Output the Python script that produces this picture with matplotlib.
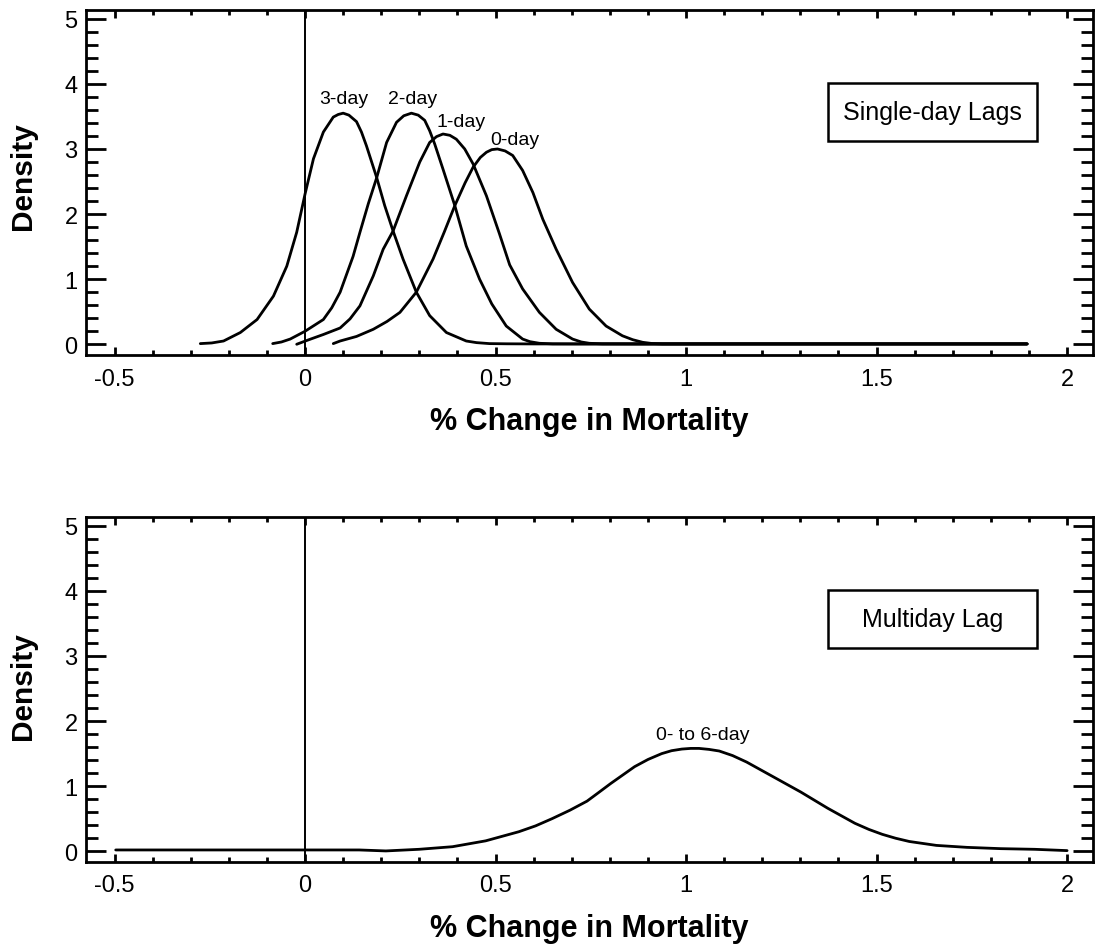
import numpy as np
import matplotlib
matplotlib.use("Agg")
import matplotlib.pyplot as plt
from matplotlib.ticker import MultipleLocator
from matplotlib.patches import Rectangle

plt.rcParams['font.family'] = ['Liberation Sans', 'DejaVu Sans']

# Posterior densities of the % change in mortality, single-day lags
lag3_x = [-0.275, -0.245, -0.214, -0.170, -0.126, -0.083, -0.048, -0.022, 0.0, 0.022,
          0.048, 0.074, 0.087, 0.100, 0.115, 0.135, 0.148, 0.161, 0.188, 0.209,
          0.231, 0.257, 0.292, 0.327, 0.371, 0.423, 0.45, 0.484, 0.53, 0.60,
          1.0, 1.5, 1.895]
lag3_y = [0.01, 0.02, 0.05, 0.18, 0.38, 0.74, 1.20, 1.72, 2.31, 2.85,
          3.26, 3.49, 3.53, 3.55, 3.52, 3.42, 3.26, 3.05, 2.56, 2.13,
          1.74, 1.31, 0.80, 0.44, 0.18, 0.05, 0.025, 0.01, 0.007, 0.005,
          0.005, 0.005, 0.005]

lag2_x = [-0.085, -0.062, -0.039, 0.0, 0.048, 0.070, 0.092, 0.126, 0.144, 0.166,
          0.188, 0.214, 0.240, 0.259, 0.279, 0.297, 0.314, 0.327, 0.340, 0.362,
          0.393, 0.423, 0.458, 0.490, 0.528, 0.571, 0.59, 0.615, 0.65, 0.70,
          1.0, 1.5, 1.895]
lag2_y = [0.01, 0.035, 0.08, 0.20, 0.38, 0.56, 0.80, 1.35, 1.72, 2.16,
          2.56, 3.10, 3.41, 3.51, 3.55, 3.52, 3.44, 3.28, 3.08, 2.69,
          2.13, 1.51, 1.00, 0.62, 0.28, 0.08, 0.04, 0.015, 0.006, 0.005,
          0.005, 0.005, 0.005]

lag1_x = [-0.022, 0.010, 0.048, 0.092, 0.118, 0.144, 0.179, 0.205, 0.231, 0.266,
          0.301, 0.327, 0.345, 0.362, 0.380, 0.397, 0.419, 0.441, 0.476, 0.510,
          0.537, 0.571, 0.615, 0.659, 0.702, 0.725, 0.746, 0.78, 0.85, 1.2,
          1.5, 1.895]
lag1_y = [0.0, 0.07, 0.15, 0.25, 0.39, 0.59, 1.05, 1.46, 1.74, 2.28,
          2.80, 3.10, 3.19, 3.23, 3.21, 3.15, 3.00, 2.77, 2.28, 1.70,
          1.22, 0.85, 0.49, 0.23, 0.08, 0.035, 0.015, 0.006, 0.005, 0.005,
          0.005, 0.005]

lag0_x = [0.074, 0.092, 0.135, 0.179, 0.215, 0.249, 0.292, 0.336, 0.365, 0.393,
          0.420, 0.441, 0.460, 0.476, 0.490, 0.505, 0.525, 0.545, 0.571, 0.598,
          0.624, 0.659, 0.702, 0.746, 0.790, 0.833, 0.860, 0.886, 0.91, 0.938,
          1.2, 1.5, 1.895]
lag0_y = [0.01, 0.05, 0.12, 0.23, 0.35, 0.49, 0.80, 1.31, 1.72, 2.13,
          2.48, 2.72, 2.87, 2.95, 2.99, 3.00, 2.97, 2.90, 2.67, 2.33,
          1.92, 1.46, 0.95, 0.54, 0.28, 0.13, 0.07, 0.03, 0.012, 0.005,
          0.005, 0.005, 0.005]

# Multiday (0- to 6-day) lag
multi_x = [-0.497, -0.3, 0.0, 0.142, 0.212, 0.299, 0.387, 0.474, 0.561, 0.605,
           0.648, 0.695, 0.740, 0.770, 0.802, 0.865, 0.900, 0.936, 0.962, 0.989,
           1.012, 1.034, 1.060, 1.087, 1.122, 1.159, 1.230, 1.301, 1.372, 1.443,
           1.480, 1.515, 1.550, 1.586, 1.657, 1.737, 1.826, 1.915, 2.0]
multi_y = [0.02, 0.02, 0.02, 0.02, 0.005, 0.03, 0.07, 0.16, 0.30, 0.39,
           0.50, 0.63, 0.77, 0.90, 1.04, 1.30, 1.41, 1.50, 1.545, 1.57,
           1.58, 1.58, 1.565, 1.54, 1.47, 1.37, 1.14, 0.91, 0.66, 0.43,
           0.335, 0.26, 0.20, 0.15, 0.09, 0.06, 0.04, 0.03, 0.01]

single_labels = ['3-day', '2-day', '1-day', '0-day']
single_label_pos = [(0.101, 3.78), (0.282, 3.78), (0.409, 3.42), (0.551, 3.14)]
multi_label = '0- to 6-day'
multi_label_pos = (1.043, 1.80)

x_ticks = [-0.5, 0, 0.5, 1, 1.5, 2]
x_tick_labels = ['-0.5', '0', '0.5', '1', '1.5', '2']
y_ticks = [0, 1, 2, 3, 4, 5]
y_tick_labels = ['0', '1', '2', '3', '4', '5']

W, H = 1099, 945
fig = plt.figure(figsize=(W / 100, H / 100), dpi=100)
fig.patch.set_facecolor('white')
ax_top = fig.add_axes([86 / W, 1 - 356 / H, (1093 - 86) / W, 345 / H])
ax_bot = fig.add_axes([86 / W, 1 - 863 / H, (1093 - 86) / W, 345 / H])


def style_axes(ax, ylabel_y):
    ax.set_xlim(-0.575, 2.068)
    ax.set_ylim(-0.165, 5.135)
    ax.set_xticks(x_ticks)
    ax.set_xticklabels(x_tick_labels)
    ax.set_yticks(y_ticks)
    ax.set_yticklabels(y_tick_labels)
    ax.xaxis.set_minor_locator(MultipleLocator(0.1))
    ax.yaxis.set_minor_locator(MultipleLocator(0.2))
    ax.tick_params(which='both', direction='in', top=True, right=True,
                   width=2, color='black', labelsize=17)
    ax.tick_params(axis='y', which='major', length=14.5, pad=6)
    ax.tick_params(axis='y', which='minor', length=8.5)
    ax.tick_params(axis='x', which='major', length=6, pad=9)
    ax.tick_params(axis='x', which='minor', length=3.8)
    for sp in ax.spines.values():
        sp.set_linewidth(2)
    ax.set_xlabel('% Change in Mortality', fontsize=22, fontweight='bold', va='center')
    ax.xaxis.set_label_coords(0.5, -0.19)
    ax.set_ylabel('Density', fontsize=21.5, fontweight='bold', va='center')
    ax.yaxis.set_label_coords(-0.0626, ylabel_y)
    ax.axvline(0, color='black', lw=1.4, zorder=1)


def add_box(ax, text):
    ax.add_patch(Rectangle((0.737, 0.620), 0.207, 0.168, transform=ax.transAxes,
                           fill=False, edgecolor='black', lw=1.8, zorder=3))
    ax.text(0.8405, 0.704, text, transform=ax.transAxes, ha='center', va='center',
            fontsize=18)


style_axes(ax_top, 0.523)
style_axes(ax_bot, 0.513)

for xs, ys in [(lag3_x, lag3_y), (lag2_x, lag2_y), (lag1_x, lag1_y), (lag0_x, lag0_y)]:
    ax_top.plot(xs, ys, color='black', lw=2, solid_joinstyle='round',
                solid_capstyle='round', zorder=2)
for lab, (tx, ty) in zip(single_labels, single_label_pos):
    ax_top.text(tx, ty, lab, ha='center', va='center', fontsize=14)
add_box(ax_top, 'Single-day Lags')

ax_bot.plot(multi_x, multi_y, color='black', lw=2, solid_joinstyle='round',
            solid_capstyle='round', zorder=2)
ax_bot.text(multi_label_pos[0], multi_label_pos[1], multi_label, ha='center',
            va='center', fontsize=14)
add_box(ax_bot, 'Multiday Lag')

fig.savefig('out.png', dpi=100, facecolor='white')
